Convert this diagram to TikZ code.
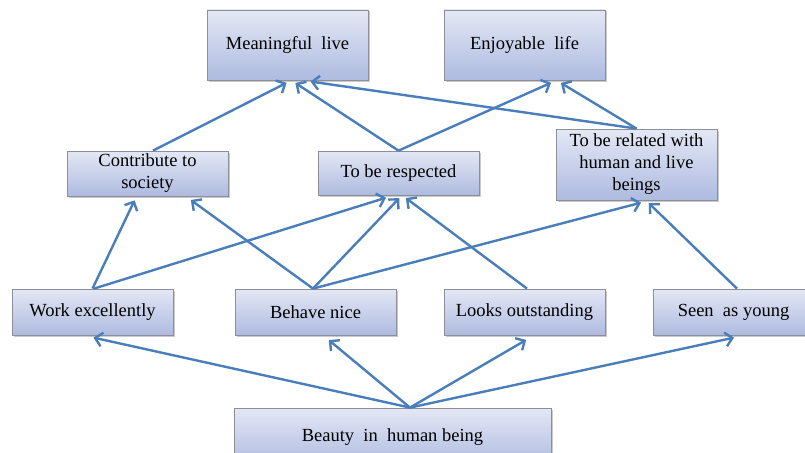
\documentclass[tikz,border=0pt]{standalone}
\usepackage{fontspec}
\setmainfont{Liberation Serif}
\usetikzlibrary{arrows.meta,shadows}
\definecolor{arrowblue}{HTML}{4A7EBB}
\definecolor{boxtop}{HTML}{E4E8F5}
\definecolor{boxbot}{HTML}{AEBBE0}
\definecolor{boxline}{HTML}{8E8E96}
\tikzset{
  box/.style={draw=boxline, line width=0.8pt, top color=boxtop, bottom color=boxbot,
    drop shadow={shadow xshift=1.5pt, shadow yshift=-1.5pt, fill=black!35, opacity=0.6},
    minimum width=161pt, inner sep=0pt, align=center,
    font=\fontsize{18.5}{22}\selectfont, text=black},
  link/.style={draw=arrowblue, line width=2.4pt, -{Straight Barb[length=7pt,width=14pt,line width=2.4pt]}, shorten >=1pt}
}
\begin{document}
\begin{tikzpicture}[x=1pt,y=-1pt]
\useasboundingbox (0,0) rectangle (805,452);
% top row
\node[box, minimum height=70pt] (ml) at (287.5,45) {Meaningful\ \ live};
\node[box, minimum height=70pt] (el) at (524.5,45) {Enjoyable\ \ life};
% middle row
\node[box, minimum height=45pt] (cs) at (147.5,173.5) {Contribute to\\society};
\node[box, minimum height=44pt] (rs) at (398.5,173) {To be respected};
\node[box, minimum height=71pt] (rl) at (636.5,164.5) {To be related with\\human and live\\beings};
% lower row
\node[box, minimum height=46pt] (we) at (92.5,312) {Work excellently};
\node[box, minimum height=46pt] (bn) at (315.5,312) {Behave nice};
\node[box, minimum height=46pt] (lo) at (524.5,312) {Looks outstanding};
\node[box, minimum height=46pt] (sy) at (733.5,312) {Seen\ \ as young};
% bottom
\node[box, minimum width=317pt, minimum height=58pt] (bh) at (392.5,437) {Beauty\ \ in\ \ human being};
% arrows to top row
\draw[link] ([xshift=5.5pt]cs.north) -- ([xshift=0pt,yshift=-2pt]ml.south);
\draw[link] (rs.north) -- ([xshift=7pt,yshift=-2pt]ml.south);
\draw[link] (rl.north) -- ([xshift=22pt,yshift=-1pt]ml.south);
\draw[link] (rs.north) -- ([xshift=27.5pt,yshift=-2pt]el.south);
\draw[link] (rl.north) -- ([xshift=35.5pt,yshift=-2pt]el.south);
% arrows to middle row
\draw[link] (we.north) -- ([xshift=-12.5pt,yshift=-3pt]cs.south);
\draw[link] ([xshift=1.5pt]we.north) -- ([xshift=-11.5pt,yshift=-2pt]rs.south);
\draw[link] ([xshift=-2.5pt]bn.north) -- ([xshift=42.5pt,yshift=-3pt]cs.south);
\draw[link] ([xshift=-2.5pt]bn.north) -- ([xshift=1.5pt,yshift=-2pt]rs.south);
\draw[link] ([xshift=-2.5pt]bn.north) -- ([xshift=5.5pt,yshift=-2pt]rl.south);
\draw[link] ([xshift=2.5pt]lo.north) -- ([xshift=6.5pt,yshift=-2pt]rs.south);
\draw[link] ([xshift=3.5pt]sy.north) -- ([xshift=11.5pt,yshift=-2pt]rl.south);
% arrows from bottom
\draw[link] ([xshift=17.5pt]bh.north) -- ([xshift=0pt,yshift=-2pt]we.south);
\draw[link] ([xshift=17.5pt]bh.north) -- ([xshift=12.5pt,yshift=-4pt]bn.south);
\draw[link] ([xshift=17.5pt]bh.north) -- ([xshift=2.5pt,yshift=-4pt]lo.south);
\draw[link] ([xshift=17.5pt]bh.north) -- ([xshift=1.5pt,yshift=-2pt]sy.south);
\end{tikzpicture}
\end{document}
